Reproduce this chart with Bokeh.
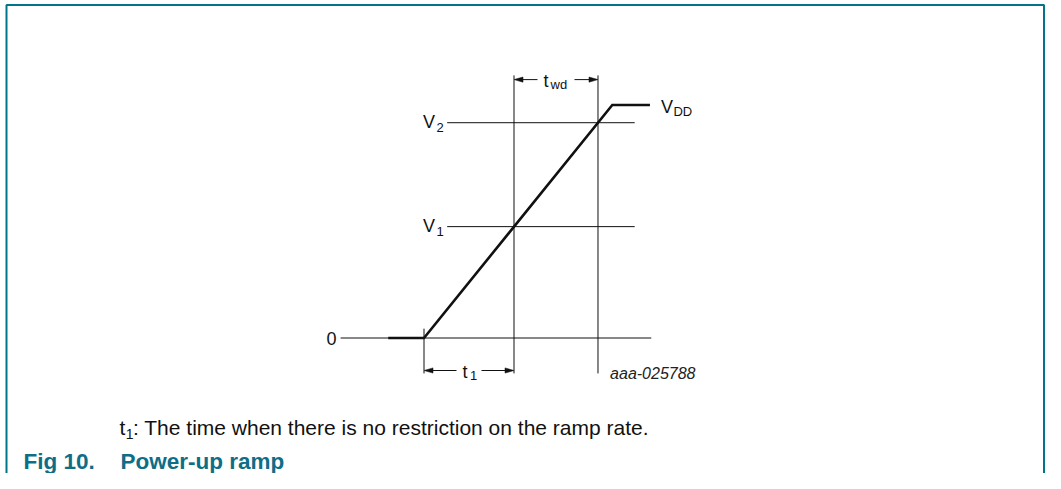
from bokeh.plotting import figure
from bokeh.models import Range1d
from bokeh.core.properties import value
from bokeh.embed import file_html
from bokeh.resources import INLINE

# ---------------- data (time in ramp durations, voltage relative to VDD) ----------------
ramp_t = [-0.19, 0.0, 1.0, 1.2]
ramp_v = [0.0, 0.0, 1.0, 1.0]

level_main = ["0", "V", "V"]
level_sub = ["", "1", "2"]
level_v = [0.0, 0.478, 0.924]
level_t_start = [-0.443, 0.123, 0.123]
level_t_end = [1.207, 1.119, 1.119]

vdd_main = "V"
vdd_sub = "DD"
vdd_v = 1.0

marker_t = [0.0, 0.478, 0.924]
marker_v_top = [0.04, 1.127, 1.127]
marker_v_bottom = [-0.152, -0.152, -0.152]

interval_main = ["t", "t"]
interval_sub = ["1", "wd"]
interval_start = [0.0, 0.478]
interval_end = [0.478, 0.924]
interval_v = [-0.1395, 1.109]

figure_code = "aaa-025788"
caption_main = "t"
caption_sub = "1"
caption_rest = ": The time when there is no restriction on the ramp rate."
title_num = "Fig 10."
title_text = "Power-up ramp"

# ---------------- layout ----------------
W, H = 1045, 473
T0_PX, PX_PER_T = 423.5, 188.3
V0_PX, PX_PER_V = 337.5, 233.0


def tx(px):
    return (px - T0_PX) / PX_PER_T


def vy(py):
    return (V0_PX - py) / PX_PER_V


def dx(px):
    return px / PX_PER_T


def dy(px):
    return px / PX_PER_V


FONT = value("Liberation Sans")
INK = "#111111"
TEAL = "#00758A"
TITLE_TEAL = "#0E6E86"
MAIN_FS = "18px"
SUB_FS = "13px"

p = figure(width=W, height=H, output_backend="svg", toolbar_location=None,
           x_range=Range1d(tx(0), tx(W)),
           y_range=Range1d(vy(H), vy(0)),
           min_border=0, tools="")
p.axis.visible = False
p.grid.visible = False
p.outline_line_color = None
p.background_fill_color = "white"
p.border_fill_color = "white"

# frame (open at the bottom)
p.line([tx(6), tx(6), tx(1043.5), tx(1043.5)], [vy(H + 5), vy(4.5), vy(4.5), vy(H + 5)],
       line_color=TEAL, line_width=2)

# reference level lines
p.segment(x0=level_t_start, y0=level_v, x1=level_t_end, y1=level_v,
          line_color=INK, line_width=1)
# vertical markers
p.segment(x0=marker_t, y0=marker_v_bottom, x1=marker_t, y1=marker_v_top,
          line_color=INK, line_width=1)

# ramp waveform
p.line(ramp_t, ramp_v, line_color=INK, line_width=2.6, line_join="miter")

# level labels (text_baseline middle = cap centre)
main_x, main_y, sub_x, sub_y = [], [], [], []
for m, s, v in zip(level_main, level_sub, level_v):
    if s:
        main_x.append(tx(422.5)); main_y.append(v + dy(1.0))
        sub_x.append(tx(436)); sub_y.append(v + dy(-4.8))
p.text(x=[tx(336)], y=[level_v[0]], text=[level_main[0]], text_font=FONT,
       text_font_size=MAIN_FS, text_align="right", text_baseline="middle", text_color=INK)
p.text(x=main_x, y=main_y, text=[m for m, s in zip(level_main, level_sub) if s], text_font=FONT,
       text_font_size=MAIN_FS, text_align="left", text_baseline="middle", text_color=INK)
p.text(x=sub_x, y=sub_y, text=[s for s in level_sub if s], text_font=FONT,
       text_font_size=SUB_FS, text_align="left", text_baseline="middle", text_color=INK)

# VDD label
p.text(x=[ramp_t[-1] + dx(11)], y=[vdd_v + dy(-2.2)], text=[vdd_main], text_font=FONT,
       text_font_size=MAIN_FS, text_align="left", text_baseline="middle", text_color=INK)
p.text(x=[ramp_t[-1] + dx(23.5)], y=[vdd_v + dy(-6.5)], text=[vdd_sub], text_font=FONT,
       text_font_size=SUB_FS, text_align="left", text_baseline="middle", text_color=INK)

# interval arrows
gaps = [12.5, 18.5]
t_off = [-6.5, -12.5]
s_off = [1.0, -5.5]
HEAD_L, HEAD_W = 9.0, 2.6
xs0, ys0, xs1, ys1 = [], [], [], []
hx, hy = [], []
lab_x, lab_y, lab_sx, lab_sy = [], [], [], []
for a, b, v, g, to, so in zip(interval_start, interval_end, interval_v, gaps, t_off, s_off):
    c = (a + b) / 2
    xs0 += [a + dx(HEAD_L - 1), c + dx(g)]
    xs1 += [c - dx(g), b - dx(HEAD_L - 1)]
    ys0 += [v, v]
    ys1 += [v, v]
    hx.append([a, a + dx(HEAD_L), a + dx(HEAD_L)])
    hy.append([v, v + dy(HEAD_W), v - dy(HEAD_W)])
    hx.append([b, b - dx(HEAD_L), b - dx(HEAD_L)])
    hy.append([v, v + dy(HEAD_W), v - dy(HEAD_W)])
    lab_x.append(c + dx(to)); lab_y.append(v + dy(-1.5))
    lab_sx.append(c + dx(so)); lab_sy.append(v + dy(-5.0))
p.segment(x0=xs0, y0=ys0, x1=xs1, y1=ys1, line_color=INK, line_width=1)
p.patches(hx, hy, fill_color=INK, line_color=INK, line_width=0.5)
p.text(x=lab_x, y=lab_y, text=interval_main, text_font=FONT, text_font_size=MAIN_FS,
       text_align="left", text_baseline="middle", text_color=INK)
p.text(x=lab_sx, y=lab_sy, text=interval_sub, text_font=FONT, text_font_size=SUB_FS,
       text_align="left", text_baseline="middle", text_color=INK)

# figure code
p.text(x=[tx(695)], y=[vy(373)], text=[figure_code], text_font=FONT, text_font_size="16px",
       text_font_style="italic", text_align="right", text_baseline="middle", text_color="#222222")

# caption
p.text(x=[tx(119)], y=[vy(426.8)], text=[caption_main], text_font=FONT, text_font_size="21px",
       text_align="left", text_baseline="middle", text_color=INK)
p.text(x=[tx(125.2)], y=[vy(433)], text=[caption_sub], text_font=FONT, text_font_size="14px",
       text_align="left", text_baseline="middle", text_color=INK)
p.text(x=[tx(132.5)], y=[vy(426.8)], text=[caption_rest], text_font=FONT, text_font_size="21px",
       text_align="left", text_baseline="middle", text_color=INK)

# title
p.text(x=[tx(23)], y=[vy(461)], text=[title_num], text_font=FONT, text_font_size="22.5px",
       text_font_style="bold", text_align="left", text_baseline="middle", text_color=TITLE_TEAL)
p.text(x=[tx(120)], y=[vy(461)], text=[title_text], text_font=FONT, text_font_size="22.5px",
       text_font_style="bold", text_align="left", text_baseline="middle", text_color=TITLE_TEAL)

open("out.html", "w").write(file_html(p, INLINE))
